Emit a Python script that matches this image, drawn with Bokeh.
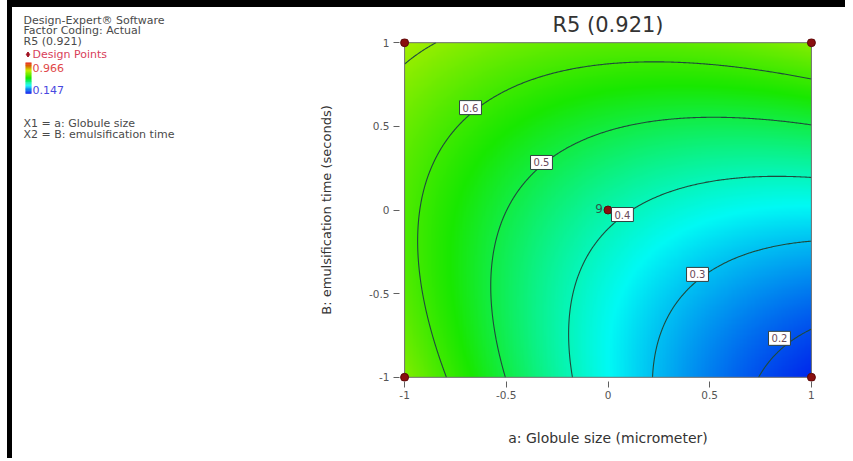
import numpy as np
from bokeh.plotting import figure
from bokeh.layouts import row
from bokeh.models import Range1d, FixedTicker, Label
from bokeh.embed import file_html
from bokeh.resources import INLINE

# ---------------- data ----------------
title_text = "R5 (0.921)"
x_label = "a: Globule size (micrometer)"
y_label = "B: emulsification time (seconds)"
axis_ticks = [-1, -0.5, 0, 0.5, 1]
tick_labels = {-1: "-1", -0.5: "-0.5", 0: "0", 0.5: "0.5", 1: "1"}

# quadratic response-surface model in coded factors
# R5 = b0 + bA*A + bB*B + bAB*A*B + bA2*A^2 + bB2*B^2
coef_b0 = 0.415
coef_A = -0.137
coef_B = 0.142
coef_AB = 0.12
coef_A2 = 0.068
coef_B2 = 0.08

contour_levels = [0.2, 0.3, 0.4, 0.5, 0.6, 0.7]
contour_label_a = [-0.676, -0.327, 0.071, 0.440, 0.843]
contour_label_b = [0.612, 0.284, -0.027, -0.385, -0.767]
contour_label_text = ["0.6", "0.5", "0.4", "0.3", "0.2"]

design_a = [-1, -1, 1, 1, 0]
design_b = [-1, 1, -1, 1, 0]
center_replicates = "9"

color_range = [0.147, 0.966]
color_range_labels = ["0.966", "0.147"]

info_lines = ["Design-Expert\u00ae Software", "Factor Coding: Actual", "R5 (0.921)"]
legend_points = "Design Points"
factor_lines = ["X1 = a: Globule size", "X2 = B: emulsification time"]

# ---------------- styles ----------------
FONT = "DejaVu Sans"
palette_pos = [0.0, 0.25, 0.5, 0.75, 1.0]
palette_rgb = [(0, 20, 235), (0, 250, 245), (25, 232, 0), (200, 240, 0), (230, 20, 0)]


def colorize(t):
    t = np.clip(t, 0, 1)
    return [np.interp(t, palette_pos, [c[k] for c in palette_rgb]) for k in range(3)]


def model(a, b):
    return (coef_b0 + coef_A * a + coef_B * b + coef_AB * a * b
            + coef_A2 * a ** 2 + coef_B2 * b ** 2)


lo, hi = axis_ticks[0], axis_ticks[-1]
pad = 0.025
n = 301
ga = np.linspace(lo, hi, n)
gb = np.linspace(lo, hi, n)
A, B = np.meshgrid(ga, gb)
Z = model(A, B)
t = (Z - color_range[0]) / (color_range[1] - color_range[0])
r, g, bl = colorize(t)
img = np.empty((n, n), dtype=np.uint32)
view = img.view(dtype=np.uint8).reshape((n, n, 4))
view[:, :, 0] = r.astype(np.uint8)
view[:, :, 1] = g.astype(np.uint8)
view[:, :, 2] = bl.astype(np.uint8)
view[:, :, 3] = 255

# ---------------- main figure ----------------
W_LEFT = 290
W_MAIN = 555
H = 458
MAIN_BG = "linear-gradient(to bottom, #000 0px, #000 7px, #fff 7px, #fff 100%)"

p = figure(width=W_MAIN, height=H,
           x_range=Range1d(lo - pad, hi + pad), y_range=Range1d(lo - pad, hi + pad),
           output_backend="svg", toolbar_location=None,
           min_border_left=109, min_border_right=29,
           min_border_top=38, min_border_bottom=77)
p.frame_align = False
p.outline_line_color = None
p.grid.visible = False
p.border_fill_color = None
p.styles = {"background": MAIN_BG}

p.image_rgba(image=[img], x=lo, y=lo, dw=hi - lo, dh=hi - lo)
p.contour(x=ga, y=gb, z=Z, levels=contour_levels, line_color="#1f4a3c",
          line_width=1.1, fill_color=None)
p.quad(left=[lo], right=[hi], bottom=[lo], top=[hi], fill_color=None,
       line_color="#707070", line_width=1)

for a_, b_, s_ in zip(contour_label_a, contour_label_b, contour_label_text):
    p.add_layout(Label(x=a_, y=b_, text=s_, text_align="center", text_baseline="middle",
                       text_font=FONT, text_font_size="10px", text_color="#6a4a5a",
                       background_fill_color="white", border_line_color="#304040",
                       border_line_width=1, padding=3))

p.scatter(design_a, design_b, size=8, fill_color="#8a0f0f", line_color="#5a0a0a")
p.add_layout(Label(x=design_a[-1], y=design_b[-1], text=center_replicates,
                   x_offset=-5, y_offset=2, text_align="right", text_baseline="middle",
                   text_font=FONT, text_font_size="12px", text_color="#2f5a4a"))

for ax in (p.xaxis[0], p.yaxis[0]):
    ax.ticker = FixedTicker(ticks=axis_ticks)
    ax.major_label_overrides = tick_labels
    ax.axis_line_color = None
    ax.major_tick_line_color = "#606060"
    ax.major_tick_out = 6
    ax.major_tick_in = 0
    ax.minor_tick_line_color = None
    ax.major_label_text_font = FONT
    ax.major_label_text_font_size = "10.5px"
    ax.major_label_text_color = "#555555"
    ax.axis_label_text_font = FONT
    ax.axis_label_text_font_style = "normal"
    ax.axis_label_text_color = "#333333"

p.xaxis.axis_label = x_label
p.xaxis.axis_label_text_font_size = "14px"
p.xaxis.major_label_standoff = 3
p.xaxis.axis_label_standoff = 28
p.yaxis.axis_label = y_label
p.yaxis.axis_label_text_font_size = "13px"
p.yaxis.major_label_standoff = 4
p.yaxis.axis_label_standoff = 32

p.title.text = title_text
p.title.align = "center"
p.title.text_font = FONT
p.title.text_font_size = "21px"
p.title.text_font_style = "normal"
p.title.text_color = "#333333"
p.title.standoff = 4

# ---------------- left info panel ----------------
# data units = pixels of this panel
q = figure(width=W_LEFT, height=H, x_range=Range1d(0, W_LEFT), y_range=Range1d(H, 0),
           output_backend="svg", toolbar_location=None,
           min_border_left=0, min_border_right=0, min_border_top=0, min_border_bottom=0,
           x_axis_type=None, y_axis_type=None)
q.frame_align = False
q.outline_line_color = None
q.grid.visible = False
q.border_fill_color = None
q.background_fill_color = None
q.styles = {"background":
            "linear-gradient(to right, #fff 0px, #fff 7px, #000 7px, #000 100%) 0 0 / 100% 7px no-repeat, "
            "linear-gradient(to right, #fff 0px, #fff 7px, #000 7px, #000 12px, #fff 12px, #fff 100%)"}


def add_text(x, y, s, color, size="11px"):
    q.add_layout(Label(x=x, y=y, text=s, text_align="left", text_baseline="middle",
                       text_font=FONT, text_font_size=size, text_color=color))


for yy, s in zip([20, 30, 41], info_lines):
    add_text(23, yy, s, "#4a4a4a")
q.scatter([27.5], [54], size=5, marker="diamond", fill_color="#a01020", line_color="#a01020")
add_text(32, 54, legend_points, "#d8405a")

nb = 30
cb_top, cb_bot = 62, 93
edges = np.linspace(cb_top, cb_bot, nb + 1)
tt = np.linspace(1, 0, nb)
cr, cg, cbb = colorize(tt)
cols = ["#%02x%02x%02x" % (int(a), int(b), int(c)) for a, b, c in zip(cr, cg, cbb)]
q.quad(left=25, right=31, top=edges[:-1], bottom=edges[1:] + 0.3, fill_color=cols, line_color=None)
add_text(32, 67, color_range_labels[0], "#e04848")
add_text(32, 89, color_range_labels[1], "#4848e0")
for yy, s in zip([123, 134], factor_lines):
    add_text(23, yy, s, "#4a4a4a")

layout = row(q, p)
open("out.html", "w").write(file_html(layout, INLINE))
